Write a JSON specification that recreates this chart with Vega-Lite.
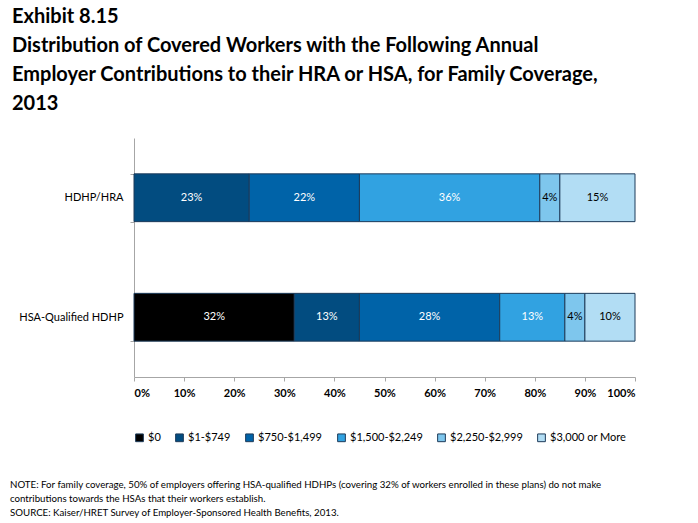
{
  "$schema": "https://vega.github.io/schema/vega-lite/v6.json",
  "padding": {"left": 10, "top": 7, "right": 10, "bottom": 5},
  "title": {
    "text": ["NOTE: For family coverage, 50% of employers offering HSA-qualified HDHPs (covering 32% of workers enrolled in these plans) do not make", "contributions towards the HSAs that their workers establish.", "SOURCE:  Kaiser/HRET Survey of Employer-Sponsored Health Benefits, 2013."],
    "orient": "bottom",
    "anchor": "start",
    "frame": "bounds",
    "dx": -2,
    "font": "Lato",
    "fontSize": 9.7,
    "fontWeight": "normal",
    "lineHeight": 14,
    "color": "black",
    "offset": 36
  },
  "vconcat": [
    {
      "width": 501,
      "height": 239,
      "title": {
        "text": ["Exhibit 8.15", "Distribution of Covered Workers with the Following Annual", "Employer Contributions to their HRA or HSA, for Family Coverage,", "2013"],
        "anchor": "start",
        "frame": "group",
        "dx": -122,
        "font": "Lato",
        "fontSize": 20,
        "fontWeight": "bold",
        "lineHeight": 29,
        "color": "black",
        "offset": 18
      },
      "data": {
        "values": [
          {"plan": "HDHP/HRA", "cat": "$0", "rank": 0, "value": 0.0},
          {"plan": "HDHP/HRA", "cat": "$1-$749", "rank": 1, "value": 0.23},
          {"plan": "HDHP/HRA", "cat": "$750-$1,499", "rank": 2, "value": 0.22},
          {"plan": "HDHP/HRA", "cat": "$1,500-$2,249", "rank": 3, "value": 0.36},
          {"plan": "HDHP/HRA", "cat": "$2,250-$2,999", "rank": 4, "value": 0.04},
          {"plan": "HDHP/HRA", "cat": "$3,000 or More", "rank": 5, "value": 0.15},
          {"plan": "HSA-Qualified HDHP", "cat": "$0", "rank": 0, "value": 0.32},
          {"plan": "HSA-Qualified HDHP", "cat": "$1-$749", "rank": 1, "value": 0.13},
          {"plan": "HSA-Qualified HDHP", "cat": "$750-$1,499", "rank": 2, "value": 0.28},
          {"plan": "HSA-Qualified HDHP", "cat": "$1,500-$2,249", "rank": 3, "value": 0.13},
          {"plan": "HSA-Qualified HDHP", "cat": "$2,250-$2,999", "rank": 4, "value": 0.04},
          {"plan": "HSA-Qualified HDHP", "cat": "$3,000 or More", "rank": 5, "value": 0.10}
        ]
      },
      "encoding": {
        "y": {
          "field": "plan",
          "type": "nominal",
          "sort": ["HDHP/HRA", "HSA-Qualified HDHP"],
          "scale": {"paddingInner": 0.6, "paddingOuter": 0.3},
          "axis": {
            "title": null,
            "tickBand": "extent",
            "tickSize": 4,
            "labelPadding": 7,
            "labelFont": "Lato",
            "labelFontSize": 11,
            "labelColor": "black",
            "domainColor": "#a6a6a6",
            "tickColor": "#a6a6a6"
          }
        }
      },
      "layer": [
        {
          "transform": [{"filter": "datum.value > 0"}],
          "mark": {"type": "bar", "stroke": "#1d3b5a", "strokeWidth": 1},
          "encoding": {
            "x": {
              "field": "value",
              "type": "quantitative",
              "stack": "zero",
              "scale": {"domain": [0, 1], "nice": false},
              "axis": {
                "title": null,
                "format": ".0%",
                "values": [0, 0.1, 0.2, 0.3, 0.4, 0.5, 0.6, 0.7, 0.8, 0.9, 1],
                "grid": false,
                "tickSize": 4,
                "labelPadding": 6,
                "labelFont": "Lato",
                "labelFontSize": 11,
                "labelFontWeight": "bold",
                "labelColor": "black",
                "domainColor": "#a6a6a6",
                "tickColor": "#a6a6a6"
              }
            },
            "color": {
              "field": "cat",
              "type": "nominal",
              "scale": {
                "domain": ["$0", "$1-$749", "$750-$1,499", "$1,500-$2,249", "$2,250-$2,999", "$3,000 or More"],
                "range": ["#000000", "#024c80", "#0063a8", "#31a2e1", "#7ec6ed", "#b2ddf4"]
              },
              "legend": {
                "title": null,
                "orient": "bottom",
                "direction": "horizontal",
                "symbolType": "square",
                "symbolSize": 60,
                "symbolStrokeColor": "#1d3b5a",
                "symbolStrokeWidth": 1,
                "labelFont": "Lato",
                "labelFontSize": 11,
                "labelColor": "black",
                "columnPadding": 12,
                "labelOffset": 3,
                "offset": 34
              }
            },
            "order": {"field": "rank", "type": "quantitative"}
          }
        },
        {
          "transform": [{"filter": "datum.value > 0"}],
          "mark": {"type": "text", "font": "Lato", "fontSize": 11, "baseline": "middle", "align": "center"},
          "encoding": {
            "x": {"field": "value", "type": "quantitative", "stack": "zero", "bandPosition": 0.5},
            "text": {"field": "value", "type": "quantitative", "format": ".0%"},
            "order": {"field": "rank", "type": "quantitative"},
            "color": {
              "condition": {"test": "datum.rank >= 4", "value": "black"},
              "value": "white"
            }
          }
        }
      ]
    }
  ],
  "config": {"view": {"stroke": null}, "font": "Lato"}
}
